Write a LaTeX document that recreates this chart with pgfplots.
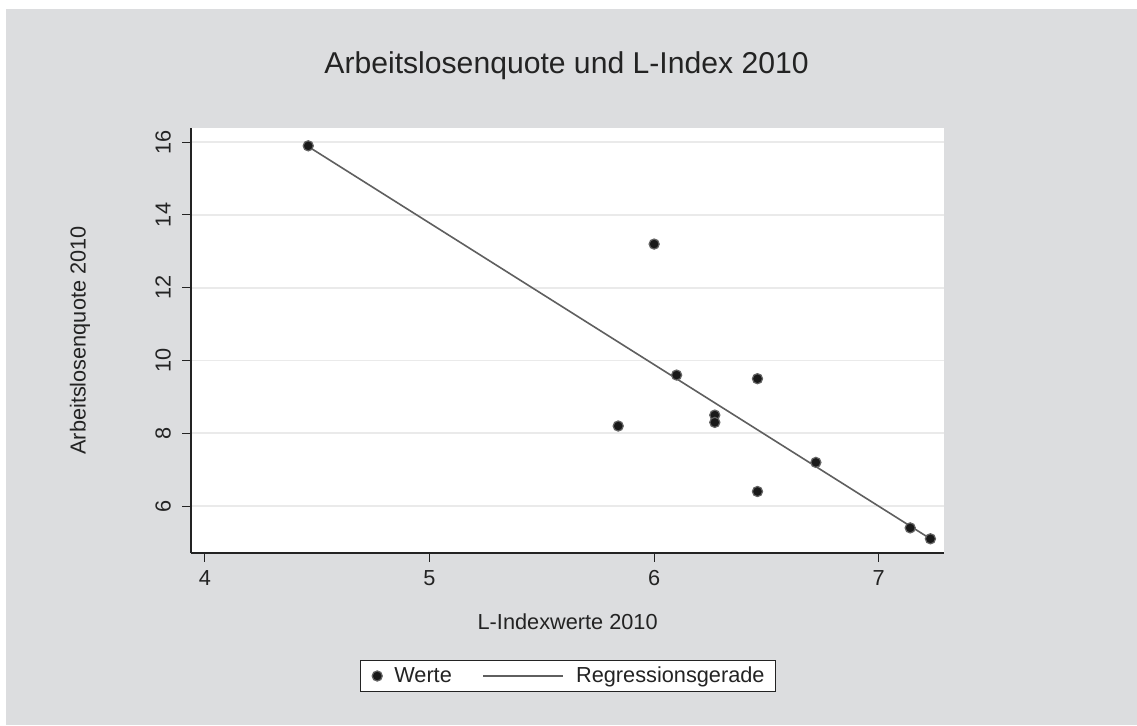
\documentclass[border=0pt]{standalone}
\usepackage{fontspec}
\setmainfont{Liberation Sans}
\usepackage{pgfplots}
\pgfplotsset{compat=1.18}
\definecolor{bg}{RGB}{220,221,223}
\definecolor{gridc}{RGB}{234,234,234}
\definecolor{axc}{RGB}{35,35,35}
\definecolor{txt}{RGB}{35,35,35}
\definecolor{linec}{RGB}{95,95,95}
\definecolor{dotfill}{RGB}{25,25,25}
\definecolor{dotdraw}{RGB}{100,100,100}
\newcommand{\lblfont}{\fontsize{16.3}{19}\selectfont}
\pgfplotsset{
  dotlegend/.style={legend image code/.code={\path (0pt,0pt); \draw[##1] plot coordinates {(6.5pt,0pt)};}},
  linelegend/.style={legend image code/.code={\draw[##1] (0pt,0pt) -- (60pt,0pt);}},
}
\begin{document}
\begin{tikzpicture}
\useasboundingbox (0,0) rectangle (852.75pt,543.75pt);
\fill[white] (0,0) rectangle (852.75pt,543.75pt);
\fill[bg] (4.5pt,0) rectangle (852.75pt,537pt);
\begin{axis}[
  at={(143.25pt,129pt)}, anchor=south west,
  scale only axis, width=565pt, height=318.75pt,
  xmin=3.938, xmax=7.292, ymin=4.71, ymax=16.39,
  axis background/.style={fill=white},
  axis x line*=bottom, axis y line*=left,
  axis line style={axc, line width=0.8pt, -},
  xtick={4,5,6,7}, ytick={6,8,10,12,14,16},
  tick align=outside, major tick length=6.5pt,
  tick style={axc, line width=0.8pt},
  ymajorgrids, grid style={gridc, line width=1.3pt},
  /pgf/number format/assume math mode=true,
  tick label style={font=\lblfont, text=txt},
  xticklabel style={anchor=north, inner sep=0pt},
  yticklabel style={rotate=90, anchor=south, inner sep=0pt},
  xticklabel shift=6.5pt, yticklabel shift=8.5pt,
  xlabel={L-Indexwerte 2010},
  ylabel={Arbeitslosenquote 2010},
  label style={font=\lblfont, text=txt},
  xlabel style={at={(axis description cs:0.5,-0.1624)}, anchor=center},
  ylabel style={at={(axis description cs:-0.1474,0.5)}, anchor=center},
  title={Arbeitslosenquote und L-Index 2010},
  title style={at={(axis description cs:0.4985,1.127)}, anchor=center, font=\fontsize{22.6}{27}\selectfont, text=txt},
  legend style={at={(axis description cs:0.5,-0.2894)}, anchor=center,
    draw=axc, line width=0.75pt, fill=white, font=\lblfont, text=txt,
    inner xsep=6pt, inner ysep=3pt,
    /tikz/every odd column/.append style={column sep=7pt},
    /tikz/every even column/.append style={column sep=21pt}},
  legend columns=2, legend cell align=left,
]
\addplot[only marks, mark=*, mark size=3.8pt,
  mark options={fill=dotfill, draw=dotdraw, line width=0.9pt}, dotlegend]
coordinates {
(4.46,15.9) (6.00,13.2) (6.10,9.6) (6.46,9.5) (6.27,8.5) (6.27,8.3)
(5.84,8.2) (6.72,7.2) (6.46,6.4) (7.14,5.4) (7.23,5.1)
};
\addlegendentry{Werte}
\addplot[linec, line width=1.2pt, no marks, linelegend]
coordinates {(4.46,15.88) (7.23,5.10)};
\addlegendentry{Regressionsgerade}
\end{axis}
\end{tikzpicture}
\end{document}
